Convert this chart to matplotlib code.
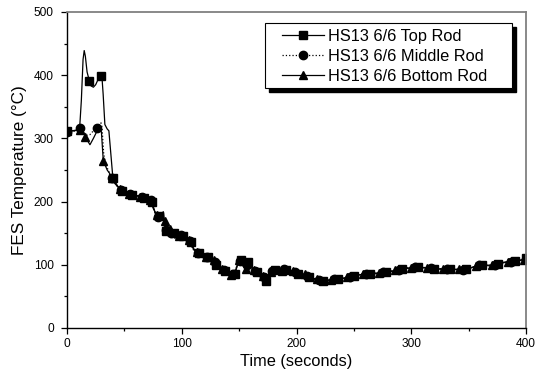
import matplotlib
matplotlib.use("Agg")
import matplotlib.pyplot as plt
from matplotlib.patches import Rectangle
import matplotlib.transforms as mtransforms

plt.rcParams['font.family'] = ['Liberation Sans', 'DejaVu Sans']

# (time s, temperature C)
top_rod = [(0, 311), (4, 312), (8, 313), (11, 316), (12.5, 360), (14, 425), (15, 439),
           (16, 430), (17.5, 405), (19.5, 391), (21, 383), (23, 381), (25, 385), (27, 393),
           (29.5, 398), (30.5, 396), (31.5, 370), (33, 322), (35, 315), (36.5, 312),
           (38, 280), (40, 237),
           (44, 225), (48, 216), (52, 213), (57, 211), (62, 209), (67, 206), (71, 203),
           (74, 200), (77, 181), (80, 177), (84, 184), (86, 154), (89, 158), (93, 150),
           (97, 142), (101, 146), (105, 142), (108, 136), (111, 123), (115, 118), (119, 113),
           (123, 113), (127, 110), (130, 100), (134, 95), (138, 90), (142, 84), (146, 86),
           (149, 103), (152, 107), (155, 94), (158, 104), (162, 92), (166, 88), (170, 84),
           (173, 75), (177, 86), (181, 92), (186, 89), (191, 92), (196, 90), (201, 86),
           (206, 84), (211, 81), (217, 76), (223, 75), (229, 76), (236, 77), (243, 79),
           (250, 82), (257, 85), (264, 86), (271, 86), (278, 88), (285, 90), (292, 93),
           (299, 95), (306, 96), (313, 95), (320, 94), (327, 93), (334, 93), (341, 92),
           (348, 93), (355, 97), (362, 100), (369, 98), (376, 102), (383, 104), (390, 106),
           (397, 108), (400, 110)]

middle_rod = [(0, 310), (4, 311), (8, 312), (11, 316), (14, 311), (17, 305), (20, 306),
              (23, 312), (26, 317), (28, 322), (29.5, 325), (30.5, 318), (32, 275), (34, 258),
              (37, 245), (39, 237),
              (43, 226), (47, 218), (51, 214), (55, 212), (60, 210), (65, 207),
              (70, 203), (73, 202), (76, 185), (79, 176), (83, 181), (86, 155), (88, 158),
              (91, 150), (95, 143), (99, 147), (103, 146), (107, 137), (110, 124), (114, 119),
              (118, 114), (122, 113), (126, 110), (129, 104), (133, 96), (137, 91), (141, 85),
              (145, 85), (148, 98), (151, 106), (154, 96), (157, 100), (160, 95), (164, 90),
              (168, 86), (172, 80), (175, 84), (179, 90), (184, 91), (189, 93), (194, 91),
              (199, 88), (204, 84), (209, 82), (214, 78), (220, 76), (226, 75), (233, 77),
              (240, 78), (247, 81), (254, 84), (261, 86), (268, 86), (275, 88), (282, 90),
              (289, 92), (296, 95), (303, 96), (310, 96), (317, 95), (324, 94), (331, 93),
              (338, 93), (345, 92), (352, 94), (359, 99), (366, 99), (373, 100), (380, 103),
              (387, 105), (394, 107), (400, 109)]

bottom_rod = [(0, 310), (5, 312), (11, 313), (14, 310), (16, 303), (18, 296), (20, 290),
              (23, 300), (26, 311), (29, 316), (30, 310), (31.6, 265), (35, 250), (37, 245),
              (39, 237),
              (42, 228), (46, 220), (50, 215), (54, 212), (59, 210), (64, 208),
              (69, 204), (72, 202), (75, 190), (78, 179), (82, 182), (85, 170), (87, 153),
              (90, 156), (94, 142), (98, 146), (102, 145), (106, 140), (109, 128), (113, 120),
              (117, 115), (121, 113), (125, 111), (128, 107), (131, 97), (135, 93), (139, 88),
              (143, 84), (147, 90), (150, 108), (153, 100), (156, 93), (159, 103), (163, 91),
              (167, 87), (171, 83), (174, 79), (178, 88), (182, 91), (187, 90), (192, 92),
              (197, 90), (202, 86), (207, 85), (212, 80), (218, 77), (224, 75), (230, 76),
              (237, 78), (244, 80), (251, 83), (258, 85), (265, 87), (272, 87), (279, 89),
              (286, 91), (293, 94), (300, 95), (307, 96), (314, 95), (321, 94), (328, 93),
              (335, 93), (342, 93), (349, 93), (356, 98), (363, 100), (370, 99), (377, 103),
              (384, 105), (391, 106), (398, 108)]

labels = ["HS13 6/6 Top Rod", "HS13 6/6 Middle Rod", "HS13 6/6 Bottom Rod"]

# which points carry a symbol: a few in the early transient, then every other one
top_marks = [0, 9, 14, 21] + list(range(23, len(top_rod), 2))
mid_marks = [0, 3, 8, 15] + list(range(17, len(middle_rod), 2))
bot_marks = [2, 4, 11, 14] + list(range(16, len(bottom_rod), 2))

fig = plt.figure(figsize=(5.37, 3.85), dpi=100)
ax = fig.add_axes([67/537, 1-328/385, 459/537, 316/385])

series = [(top_rod, '-', 's', top_marks),
          (middle_rod, ':', 'o', mid_marks),
          (bottom_rod, '-', '^', bot_marks)]
for (pts, ls, mk, marks), lab in zip(series, labels):
    t = [p[0] for p in pts]
    y = [p[1] for p in pts]
    ax.plot(t, y, color='black', ls=ls, lw=0.9, marker=mk, ms=6,
            markevery=marks, label=lab)

ax.set_xlim(0, 400)
ax.set_ylim(0, 500)
ax.set_xticks([0, 100, 200, 300, 400])
ax.set_xticks(range(50, 400, 100), minor=True)
ax.set_yticks(range(0, 501, 100))
ax.set_yticks(range(50, 500, 100), minor=True)
ax.tick_params(which='major', direction='out', length=4.5, width=0.9, labelsize=8.6,
               colors='black')
ax.tick_params(which='minor', direction='out', length=2.5, width=0.9)
ax.tick_params(axis='y', pad=5)
ax.tick_params(axis='x', pad=2.5)
for s in ['left', 'bottom']:
    ax.spines[s].set_linewidth(1.0)
    ax.spines[s].set_color('black')
for s in ['top', 'right']:
    ax.spines[s].set_linewidth(1.3)
    ax.spines[s].set_color('#808080')

ax.set_xlabel("Time (seconds)", fontsize=11.8, labelpad=3)
ax.set_ylabel("FES Temperature (°C)", fontsize=12.3, labelpad=5)

# legend box with a solid black drop shadow, drawn by hand
box = (0.431, 0.759, 0.538, 0.206)
shadow_tr = mtransforms.offset_copy(ax.transAxes, fig=fig, x=4, y=-4, units='dots')
ax.add_patch(Rectangle(box[:2], box[2], box[3], transform=shadow_tr,
                       facecolor='black', edgecolor='black', zorder=4))
ax.add_patch(Rectangle(box[:2], box[2], box[3], transform=ax.transAxes,
                       facecolor='white', edgecolor='black', lw=0.8, zorder=4.5))

leg = ax.legend(loc='upper left', bbox_to_anchor=(0.468, 0.947), borderaxespad=0,
                fontsize=11.8, frameon=False, handlelength=2.6,
                handletextpad=0.2, labelspacing=0.3, borderpad=0)
leg.set_zorder(5)

fig.savefig("out.png", dpi=100)
